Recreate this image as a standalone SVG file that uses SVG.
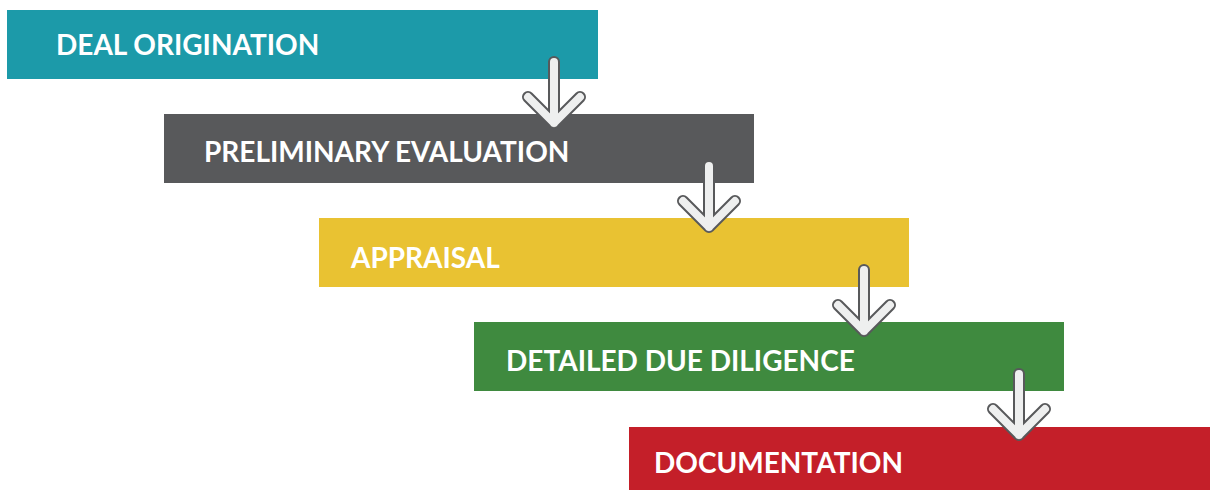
<svg xmlns="http://www.w3.org/2000/svg" width="1210" height="490" viewBox="0 0 1210 490">
<style>
.lbl{font-family:Lato,"Liberation Sans",sans-serif;font-weight:bold;font-size:28px;fill:#ffffff}
.ao{fill:none;stroke:#58595b;stroke-width:12;stroke-linecap:round;stroke-linejoin:round}
.ai{fill:none;stroke:#ffffff;stroke-opacity:0.9;stroke-width:8;stroke-linecap:round;stroke-linejoin:round}
</style>
<rect width="1210" height="490" fill="#ffffff"/>
<g id="deal-origination"><rect x="7" y="10" width="591" height="69" fill="#1c9aa9"/><text class="lbl" x="56" y="55">DEAL ORIGINATION</text></g>
<g id="preliminary-evaluation"><rect x="164" y="114" width="590" height="69" fill="#58595b"/><text class="lbl" x="204" y="162">PRELIMINARY EVALUATION</text></g>
<g id="appraisal"><rect x="319" y="218" width="590" height="69" fill="#e9c232"/><text class="lbl" x="351" y="268">APPRAISAL</text></g>
<g id="detailed-due-diligence"><rect x="474" y="322" width="590" height="69" fill="#3f8a3f"/><text class="lbl" x="506" y="371">DETAILED DUE DILIGENCE</text></g>
<g id="documentation"><rect x="629" y="427" width="581" height="63" fill="#c41f29"/><text class="lbl" x="654" y="473">DOCUMENTATION</text></g>
<g id="connectors">
<path class="ao" d="M554,62V123M528,97L554,123L580,97"/><path class="ai" d="M554,62V123M528,97L554,123L580,97"/>
<path class="ao" d="M709,166V227M683,201L709,227L735,201"/><path class="ai" d="M709,166V227M683,201L709,227L735,201"/>
<path class="ao" d="M864,270V331M838,305L864,331L890,305"/><path class="ai" d="M864,270V331M838,305L864,331L890,305"/>
<path class="ao" d="M1019,374V435M993,409L1019,435L1045,409"/><path class="ai" d="M1019,374V435M993,409L1019,435L1045,409"/>
</g>
</svg>
